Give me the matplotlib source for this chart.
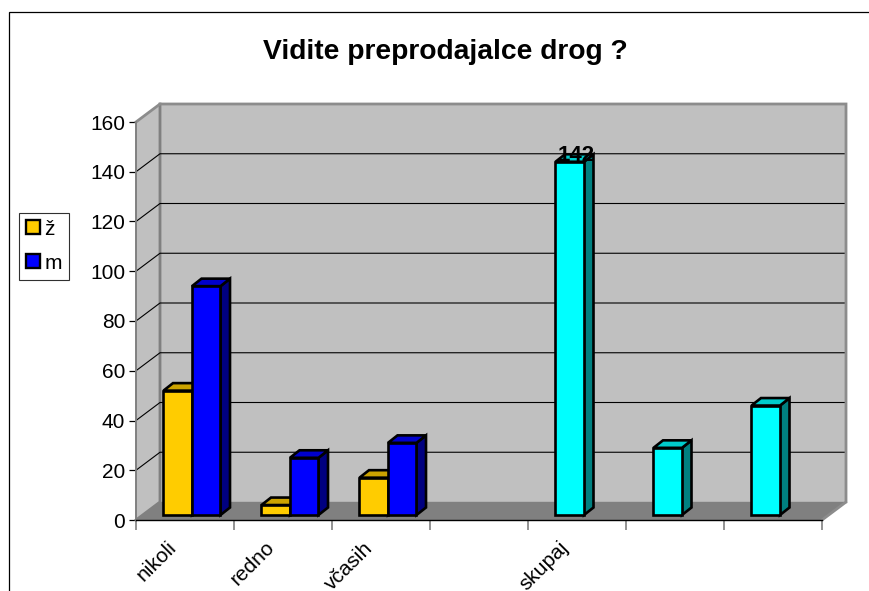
import math
import matplotlib
matplotlib.use("Agg")
import matplotlib.pyplot as plt
from matplotlib.patches import Polygon, Rectangle, Patch
from matplotlib.transforms import ScaledTranslation

categories = ["nikoli", "redno", "včasih", "", "skupaj", "", ""]
zenske = [50, 4, 15, None, None, None, None]
moski = [92, 23, 29, None, None, None, None]
skupaj = [None, None, None, None, 142, 27, 44]
skupaj_label = [None, None, None, None, "142", None, None]
y_ticks = [0, 20, 40, 60, 80, 100, 120, 140, 160]

W, H = 870, 591
plt.rcParams["font.family"] = ["Liberation Sans", "DejaVu Sans"]
fig = plt.figure(figsize=(W / 100, H / 100), dpi=100, facecolor="white")

# chart frame, open towards the right and bottom as in the reference
fig.add_artist(Rectangle((9 / W, -0.1), 1, 1 - 12 / H + 0.1, transform=fig.transFigure,
                         fill=False, ec="black", lw=0.9))

L, R, T, B = 136, 822, 122, 520
ax = fig.add_axes([L / W, 1 - B / H, (R - L) / W, (B - T) / H])
ax.set_xlim(0, len(categories))
ax.set_ylim(0, 160)
ax.patch.set_visible(False)
PX = len(categories) / (R - L)
PY = 160 / (B - T)


def pt(x, y, dx=0.0, dy=0.0):
    """Data position shifted by a pixel offset into the depth of the chart."""
    return (x + dx * PX, y + dy * PY)


DX, DY = 24, 18
nc = len(categories)
GRAY = "#808080"
WALL = "#C0C0C0"
# walls and floor
ax.add_patch(Polygon([pt(0, 0), pt(0, 160), pt(0, 160, DX, DY), pt(0, 0, DX, DY)],
                     fc=WALL, ec="none", zorder=1, clip_on=False))
ax.add_patch(Polygon([pt(0, 0, DX, DY), pt(0, 160, DX, DY), pt(nc, 160, DX, DY), pt(nc, 0, DX, DY)],
                     fc=WALL, ec="none", zorder=1, clip_on=False))
ax.add_patch(Polygon([pt(0, 0), pt(nc, 0), pt(nc, 0, DX, DY), pt(0, 0, DX, DY)],
                     fc=GRAY, ec="none", zorder=1.5, clip_on=False))
# gridlines
for v in y_ticks[1:-1]:
    a, b, c = pt(0, v), pt(0, v, DX, DY), pt(nc, v, DX, DY)
    ax.plot([a[0], b[0], c[0]], [a[1], b[1], c[1]], color="black", lw=0.8, zorder=2, clip_on=False)
# wall edges
outline = [pt(0, 160), pt(0, 160, DX, DY), pt(nc, 160, DX, DY), pt(nc, 0, DX, DY), pt(nc, 0)]
ax.plot(*zip(*outline), color="#8C8C8C", lw=2.0, zorder=2.5, clip_on=False, solid_joinstyle="miter")
inner = [pt(0, 160, DX, DY), pt(0, 0, DX, DY), pt(0, 0)]
ax.plot(*zip(*inner), color=GRAY, lw=2.0, zorder=1.6, clip_on=False)
ax.plot(*zip(pt(0, 0, DX, DY), pt(nc, 0, DX, DY)), color=GRAY, lw=1.0, zorder=1.6, clip_on=False)

# bars
BW = 28.5 * PX
OX, OY = 7, 5           # offset of the bar plane from the front plane
SX, SY = 9.5, 7.5       # bar depth


def bar3d(i, left_slot, value, front, top, side, z):
    x0 = i + 0.5 + (left_slot - 1) * BW
    x1 = x0 + BW
    f = [pt(x0, 0, OX, OY), pt(x1, 0, OX, OY), pt(x1, value, OX, OY), pt(x0, value, OX, OY)]
    tp = [pt(x0, value, OX, OY), pt(x1, value, OX, OY),
          pt(x1, value, OX + SX, OY + SY), pt(x0, value, OX + SX, OY + SY)]
    sd = [pt(x1, 0, OX, OY), pt(x1, 0, OX + SX, OY + SY),
          pt(x1, value, OX + SX, OY + SY), pt(x1, value, OX, OY)]
    for poly, col in ((sd, side), (tp, top), (f, front)):
        ax.add_patch(Polygon(poly, fc=col, ec="black", lw=1.9, joinstyle="miter",
                             zorder=z, clip_on=False))
    return (x0 + x1) / 2


YEL = ("#FFCC00", "#CCA300", "#806600")
BLU = ("#0000FF", "#0000CC", "#000080")
CYA = ("#00FFFF", "#00CCCC", "#008080")
z = 3.0
for i in range(nc):
    if zenske[i] is not None:
        bar3d(i, 0, zenske[i], *YEL, z); z += 0.01
    if moski[i] is not None:
        bar3d(i, 1, moski[i], *BLU, z); z += 0.01
    if skupaj[i] is not None:
        cx = bar3d(i, 0, skupaj[i], *CYA, z); z += 0.01
        if skupaj_label[i]:
            p = pt(cx, skupaj[i], OX + 6, OY + 6)
            ax.text(p[0], p[1], skupaj_label[i], ha="center", va="center", fontsize=16,
                    fontweight="bold", color="black", zorder=10)

# axes
for s in ("top", "right"):
    ax.spines[s].set_visible(False)
ax.spines["left"].set_color(GRAY)
ax.spines["left"].set_linewidth(1.4)
ax.spines["bottom"].set_color("black")
ax.spines["bottom"].set_linewidth(1.0)
ax.set_yticks(y_ticks)
ax.tick_params(axis="y", length=5, width=0.9, color="black", labelsize=15, pad=2.7)
ax.set_xticks(range(nc + 1))
ax.set_xticklabels([""] * (nc + 1))
ax.tick_params(axis="x", which="major", length=7, width=1.2, color=GRAY)
ax.set_xticks([i + 0.5 for i in range(nc)], minor=True)
ax.set_xticklabels(categories, minor=True, rotation=45, ha="right",
                   rotation_mode="anchor", fontsize=15)
ax.tick_params(axis="x", which="minor", length=0, pad=13)
shift = ScaledTranslation(-18 / 100, 0, fig.dpi_scale_trans)
for lbl in ax.get_xticklabels(minor=True):
    lbl.set_transform(lbl.get_transform() + shift)

fig.suptitle("Vidite preprodajalce drog ?", x=445 / W, y=1 - 52 / H, va="center",
             fontsize=20.3, fontweight="bold")

handles = [Patch(fc=YEL[0], ec="black", lw=1.7), Patch(fc=BLU[0], ec="black", lw=1.7)]
leg = fig.legend(handles, ["ž", "m"], loc="lower left",
                 bbox_to_anchor=(19.5 / W, 1 - 279.5 / H), bbox_transform=fig.transFigure,
                 fontsize=15, fancybox=False, framealpha=1, edgecolor="#303030",
                 handlelength=0.65, handleheight=0.65, handletextpad=0.22,
                 labelspacing=0.72, borderpad=0.33, borderaxespad=0)
leg.get_frame().set_linewidth(0.8)

fig.savefig("out.png", dpi=100)
